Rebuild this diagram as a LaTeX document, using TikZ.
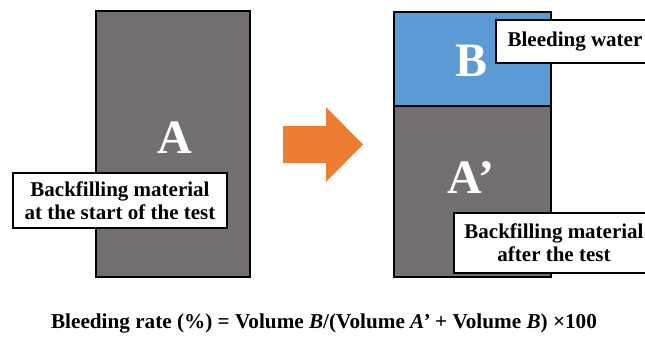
\documentclass[tikz,border=0pt]{standalone}
\usepackage{fontspec}
\setmainfont{Liberation Serif}
\definecolor{matgray}{RGB}{117,112,112}
\definecolor{waterblue}{RGB}{91,155,213}
\definecolor{arroworange}{RGB}{237,125,49}
\begin{document}
\begin{tikzpicture}[x=1bp,y=-1bp,
  block/.style={draw=black,line width=2.6bp},
  lbl/.style={draw=black,fill=white,line width=2.2bp,align=center,inner sep=0pt,font=\fontsize{21bp}{23bp}\selectfont\bfseries},
  letter/.style={text=white,font=\fontsize{48bp}{50bp}\selectfont\bfseries,inner sep=0pt}]
\useasboundingbox (0,0) rectangle (645,338);
\clip (0,0) rectangle (645,338);
% left block
\path[block,fill=matgray] (96,11) rectangle (250,277);
\node[letter] (A) at (175,138) {A};
\node[lbl,minimum width=214bp,minimum height=55bp] (startlbl) at (120,200.5) {Backfilling material\\at the start of the test};
% arrow
\fill[arroworange] (283,126) -- (326,126) -- (326,107) -- (363,144.5) -- (326,182) -- (326,163) -- (283,163) -- cycle;
% right block
\path[block,fill=matgray] (394,106) rectangle (551,277);
\path[block,fill=waterblue] (394,12) rectangle (551,106);
\node[letter] (B) at (471,61) {B};
\node[letter] (Ap) at (471,178) {A’};
\node[lbl,minimum width=158bp,minimum height=43bp] (waterlbl) at (575,41.5) {Bleeding water};
\node[lbl,minimum width=200bp,minimum height=60bp] (afterlbl) at (554,243) {Backfilling material\\after the test};
% formula
\node[inner sep=0pt,font=\fontsize{21.2bp}{23bp}\selectfont\bfseries] (formula) at (324,323) {Bleeding rate (\%) = Volume \textit{B}/(Volume \textit{A’} + Volume \textit{B}) ×100};
\end{tikzpicture}
\end{document}
